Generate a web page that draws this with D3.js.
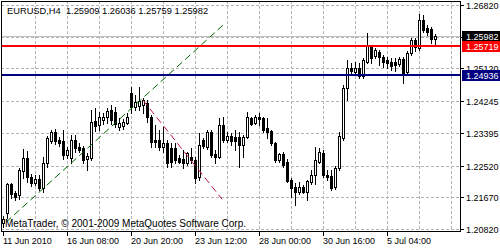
<!DOCTYPE html>
<html>
<head>
  <meta charset="utf-8">
  <title>EURUSD,H4</title>
  <script src="https://d3js.org/d3.v7.min.js"></script>
  <style>
    body { margin: 0; background: #fff; }
    svg text { font-family: "Liberation Sans", Arial, sans-serif; font-size: 9px; white-space: pre; }
  </style>
</head>
<body>
<script type="text/javascript">
  // EURUSD H4 candles (bar 0 = 11 Jun 2010)
  var open = [1.2098,1.2125,1.2202,1.2178,1.2173,1.2237,1.2272,1.2221,1.2205,1.2216,
    1.2192,1.2259,1.2318,1.2342,1.2320,1.2318,1.2280,1.2272,1.2320,1.2301,
    1.2299,1.2269,1.2272,1.2371,1.2360,1.2374,1.2382,1.2401,1.2395,1.2355,
    1.2358,1.2366,1.2446,1.2409,1.2411,1.2414,1.2419,1.2382,1.2320,1.2320,
    1.2301,1.2312,1.2299,1.2299,1.2272,1.2269,1.2259,1.2275,1.2267,1.2221,
    1.2320,1.2301,1.2342,1.2283,1.2275,1.2360,1.2320,1.2330,1.2328,1.2328,
    1.2307,1.2328,1.2379,1.2366,1.2382,1.2379,1.2352,1.2344,1.2312,1.2267,
    1.2283,1.2261,1.2213,1.2194,1.2181,1.2194,1.2181,1.2208,1.2226,1.2261,
    1.2285,1.2226,1.2224,1.2194,1.2245,1.2325,1.2460,1.2513,1.2502,1.2513,
    1.2492,1.2529,1.2569,1.2545,1.2556,1.2543,1.2535,1.2529,1.2529,1.2524,
    1.2537,1.2502,1.2553,1.2588,1.2567,1.2642,1.2620,1.2618,1.25909];
  var high = [1.2117,1.2205,1.2205,1.2184,1.2245,1.2296,1.2291,1.2229,1.2226,1.2226,
    1.2275,1.2331,1.2347,1.2350,1.2328,1.2347,1.2301,1.2334,1.2334,1.2312,
    1.2304,1.2285,1.2401,1.2406,1.2395,1.2393,1.2406,1.2414,1.2409,1.2379,
    1.2377,1.2393,1.2462,1.2441,1.2462,1.2433,1.2427,1.2387,1.2360,1.2347,
    1.2355,1.2320,1.2312,1.2312,1.2280,1.2293,1.2288,1.2299,1.2275,1.2339,
    1.2325,1.2347,1.2347,1.2293,1.2379,1.2382,1.2342,1.2339,1.2347,1.2342,
    1.2334,1.2395,1.2382,1.2387,1.2393,1.2382,1.2379,1.2347,1.2315,1.2285,
    1.2288,1.2269,1.2218,1.2205,1.2208,1.2199,1.2213,1.2240,1.2301,1.2299,
    1.2293,1.2240,1.2240,1.2251,1.2342,1.2468,1.2535,1.2527,1.2529,1.2527,
    1.2540,1.2607,1.2575,1.2567,1.2561,1.2548,1.2543,1.2540,1.2540,1.2543,
    1.2543,1.2559,1.2594,1.2594,1.2658,1.2655,1.2628,1.2623,1.26036];
  var low = [1.2087,1.2111,1.2165,1.2159,1.2162,1.2218,1.2208,1.2197,1.2200,1.2186,
    1.2181,1.2248,1.2312,1.2310,1.2304,1.2269,1.2272,1.2259,1.2288,1.2288,
    1.2259,1.2240,1.2267,1.2344,1.2347,1.2363,1.2366,1.2363,1.2355,1.2347,
    1.2350,1.2363,1.2393,1.2401,1.2401,1.2393,1.2368,1.2301,1.2301,1.2293,
    1.2288,1.2248,1.2248,1.2259,1.2259,1.2245,1.2253,1.2259,1.2205,1.2213,
    1.2299,1.2296,1.2275,1.2259,1.2272,1.2315,1.2315,1.2307,1.2293,1.2248,
    1.2275,1.2326,1.2360,1.2363,1.2360,1.2342,1.2325,1.2307,1.2261,1.2261,
    1.2248,1.2208,1.2167,1.2146,1.2176,1.2178,1.2159,1.2202,1.2202,1.2259,
    1.2221,1.2213,1.2186,1.2189,1.2240,1.2320,1.2427,1.2494,1.2494,1.2486,
    1.2486,1.2527,1.2527,1.2540,1.2521,1.2516,1.2513,1.2508,1.2505,1.2519,
    1.2473,1.2497,1.2548,1.2559,1.2561,1.2610,1.2602,1.2580,1.25759];
  var close = [1.2109,1.2202,1.2176,1.2167,1.2240,1.2272,1.2221,1.2205,1.2216,1.2192,
    1.2259,1.2326,1.2342,1.2318,1.2312,1.2280,1.2293,1.2320,1.2299,1.2293,
    1.2267,1.2277,1.2368,1.2358,1.2382,1.2382,1.2398,1.2374,1.2363,1.2366,
    1.2368,1.2382,1.2409,1.2422,1.2425,1.2427,1.2382,1.2315,1.2315,1.2301,
    1.2312,1.2259,1.2261,1.2267,1.2261,1.2259,1.2285,1.2267,1.2218,1.2307,
    1.2304,1.2342,1.2280,1.2275,1.2360,1.2320,1.2330,1.2318,1.2318,1.2307,
    1.2328,1.2382,1.2363,1.2382,1.2377,1.2347,1.2342,1.2312,1.2267,1.2283,
    1.2253,1.2210,1.2192,1.2181,1.2194,1.2181,1.2210,1.2226,1.2267,1.2288,
    1.2226,1.2221,1.2192,1.2245,1.2330,1.2460,1.2513,1.2505,1.2513,1.2492,
    1.2535,1.2572,1.2540,1.2561,1.2543,1.2529,1.2527,1.2519,1.2521,1.2537,
    1.2500,1.2553,1.2588,1.2569,1.2642,1.2615,1.2610,1.2590,1.25982];

  var yTicks = [1.2082, 1.2167, 1.2252, 1.23395, 1.24245, 1.2512, 1.2597, 1.2682];
  var xTickBars = [0, 16, 32, 48, 64, 80, 96];
  var xTickLabels = ["11 Jun 2010", "16 Jun 08:00", "20 Jun 20:00", "23 Jun 12:00",
                     "28 Jun 00:00", "30 Jun 16:00", "5 Jul 04:00"];

  // horizontal levels and trend lines (bar index, price)
  var levelPrices = [1.25719, 1.24936];
  var greenLine = [[0.75, 1.2100], [55, 1.2628]];
  var redLine = [[35, 1.2427], [54.75, 1.2162]];

  var title = "EURUSD,H4  1.25909 1.26036 1.25759 1.25982";
  var copyright = "MetaTrader, \u00a9 2001-2009 MetaQuotes Software Corp.";

  var w = 500, h = 250;
  var plotL = 1, plotR = 460, plotT = 1, plotB = 231;
  var n = open.length;
  var bid = close[n - 1];

  var svg = d3.select("body").append("svg")
    .attr("width", w)
    .attr("height", h);

  var x = d3.scaleLinear().domain([0, n - 1]).range([3, 3 + 4 * (n - 1)]);
  var y = d3.scaleLinear().domain([1.2082, 1.2682]).range([229, 5]);
  var px = function(v){ return Math.round(x(v)); };
  var py = function(v){ return Math.round(y(v)); };

  svg.append("rect")
    .attr("x", 0).attr("y", 0).attr("width", w).attr("height", h)
    .attr("fill", "#fff");

  // grid
  var grid = svg.append("g")
    .attr("stroke", "#b4b4b4")
    .attr("stroke-dasharray", "3,2")
    .attr("shape-rendering", "crispEdges");

  grid.selectAll("line.h")
    .data(yTicks)
    .enter()
    .append("line")
    .attr("x1", plotL).attr("x2", plotR)
    .attr("y1", function(d){ return py(d) + 0.5; })
    .attr("y2", function(d){ return py(d) + 0.5; });

  grid.selectAll("line.v")
    .data(d3.range(8, n + 8, 8))
    .enter()
    .append("line")
    .attr("x1", function(d){ return px(d) + 0.5; })
    .attr("x2", function(d){ return px(d) + 0.5; })
    .attr("y1", plotT).attr("y2", plotB);

  // bid line
  svg.append("line")
    .attr("x1", plotL).attr("x2", plotR)
    .attr("y1", py(bid) + 0.5).attr("y2", py(bid) + 0.5)
    .attr("stroke", "#c0c0c0")
    .attr("shape-rendering", "crispEdges");

  // candles
  var bars = d3.range(n);
  var cg = svg.append("g").attr("shape-rendering", "crispEdges");

  cg.selectAll("line")
    .data(bars)
    .enter()
    .append("line")
    .attr("x1", function(i){ return px(i) + 0.5; })
    .attr("x2", function(i){ return px(i) + 0.5; })
    .attr("y1", function(i){ return py(high[i]); })
    .attr("y2", function(i){ return py(low[i]) + 1; })
    .attr("stroke", "#000");

  cg.selectAll("rect")
    .data(bars)
    .enter()
    .append("rect")
    .attr("x", function(i){ return px(i) - 0.5; })
    .attr("y", function(i){ return py(Math.max(open[i], close[i])) + 0.5; })
    .attr("width", 2)
    .attr("height", function(i){
      return Math.max(py(Math.min(open[i], close[i])) - py(Math.max(open[i], close[i])), 0);
    })
    .attr("fill", function(i){ return close[i] >= open[i] ? "#fff" : "#000"; })
    .attr("stroke", "#000");

  // trend lines
  var line = d3.line()
    .x(function(d){ return x(d[0]); })
    .y(function(d){ return y(d[1]); });

  svg.append("path")
    .attr("d", line(greenLine))
    .attr("fill", "none")
    .attr("stroke", "#006400")
    .attr("stroke-dasharray", "7,4");

  svg.append("path")
    .attr("d", line(redLine))
    .attr("fill", "none")
    .attr("stroke", "#c0143c")
    .attr("stroke-dasharray", "7,4");

  // horizontal levels
  var levelColors = ["#ff0000", "#000080"];
  svg.selectAll("line.level")
    .data(levelPrices)
    .enter()
    .append("line")
    .attr("x1", plotL).attr("x2", plotR)
    .attr("y1", function(d){ return py(d); })
    .attr("y2", function(d){ return py(d); })
    .attr("stroke", function(d, i){ return levelColors[i]; })
    .attr("stroke-width", 2)
    .attr("shape-rendering", "crispEdges");

  // frame
  svg.append("rect")
    .attr("x", plotL + 0.5).attr("y", plotT + 0.5)
    .attr("width", plotR - plotL).attr("height", plotB - plotT)
    .attr("fill", "none")
    .attr("stroke", "#000")
    .attr("shape-rendering", "crispEdges");

  // price axis
  var fmt = d3.format(".5f");
  svg.selectAll("line.ytick")
    .data(yTicks)
    .enter()
    .append("line")
    .attr("x1", plotR).attr("x2", plotR + 4)
    .attr("y1", function(d){ return py(d) + 0.5; })
    .attr("y2", function(d){ return py(d) + 0.5; })
    .attr("stroke", "#000")
    .attr("shape-rendering", "crispEdges");

  svg.selectAll("text.ytick")
    .data(yTicks)
    .enter()
    .append("text")
    .attr("x", plotR + 6)
    .attr("y", function(d){ return py(d) + 3.5; })
    .text(fmt);

  // price tags
  var tags = [bid].concat(levelPrices);
  var tagColors = ["#000", "#ff0000", "#000080"];
  var tg = svg.selectAll("g.tag")
    .data(tags)
    .enter()
    .append("g");
  tg.append("rect")
    .attr("x", plotR + 2)
    .attr("y", function(d){ return py(d) - 5; })
    .attr("width", w - plotR - 2)
    .attr("height", 11)
    .attr("fill", function(d, i){ return tagColors[i]; });
  tg.append("text")
    .attr("x", plotR + 6)
    .attr("y", function(d){ return py(d) + 3.5; })
    .attr("fill", "#fff")
    .text(fmt);

  // time axis
  svg.selectAll("line.xtick")
    .data(xTickBars)
    .enter()
    .append("line")
    .attr("x1", function(d){ return px(d) + 0.5; })
    .attr("x2", function(d){ return px(d) + 0.5; })
    .attr("y1", plotB).attr("y2", plotB + 5)
    .attr("stroke", "#000")
    .attr("shape-rendering", "crispEdges");

  svg.selectAll("text.xtick")
    .data(xTickBars)
    .enter()
    .append("text")
    .attr("x", function(d){ return px(d); })
    .attr("y", 244)
    .text(function(d, i){ return xTickLabels[i]; });

  svg.append("text")
    .attr("x", 7).attr("y", 13.5)
    .style("font-size", "9.3px")
    .text(title);

  svg.append("text")
    .attr("x", 5).attr("y", 227)
    .style("font-size", "10px")
    .text(copyright);
</script>
</body>
</html>
